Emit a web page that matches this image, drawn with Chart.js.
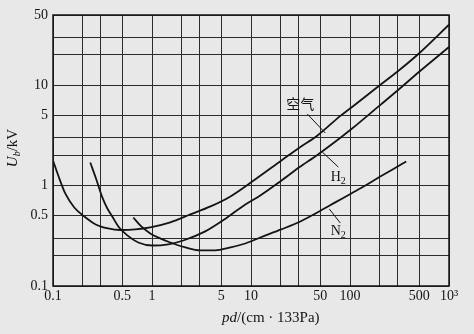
<!DOCTYPE html>
<html>
<head>
<meta charset="utf-8">
<script src="https://cdn.jsdelivr.net/npm/chart.js@4.4.1/dist/chart.umd.min.js"></script>
<style>
  html, body { margin: 0; padding: 0; background: #e8e8e8; }
  #wrap { width: 474px; height: 334px; }
</style>
</head>
<body>
<div id="wrap"><canvas id="mychart" width="474" height="334"></canvas></div>
<script>
// breakdown voltage Ub (kV) against pd (cm * 133Pa)
var airPd = [0.1, 0.113, 0.133, 0.164, 0.207, 0.27, 0.36, 0.48, 0.68, 0.96, 1.53, 2.44, 3.9, 6.2, 11, 20, 31, 47, 80, 100, 200, 300, 500, 1000]
var airUb = [1.78, 1.26, 0.835, 0.605, 0.493, 0.41, 0.374, 0.361, 0.366, 0.383, 0.43, 0.516, 0.62, 0.78, 1.15, 1.76, 2.4, 3.16, 4.95, 5.85, 10.0, 13.6, 20.8, 40]

var h2Pd = [0.238, 0.274, 0.315, 0.354, 0.397, 0.457, 0.563, 0.727, 1.0, 1.46, 2.07, 3.45, 5.37, 8.76, 12.4, 20.2, 30.7, 46.7, 80, 105, 200, 300, 500, 1000]
var h2Ub = [1.70, 1.15, 0.762, 0.591, 0.493, 0.392, 0.319, 0.271, 0.253, 0.26, 0.284, 0.35, 0.46, 0.649, 0.797, 1.12, 1.52, 2.02, 3.0, 3.7, 6.3, 8.8, 13.6, 24.0]

var n2Pd = [0.647, 0.78, 0.961, 1.21, 1.53, 2.17, 3.07, 4.36, 6.18, 8.76, 12.4, 20.2, 31.5, 46.7, 71, 103, 143, 202, 280, 370]
var n2Ub = [0.481, 0.392, 0.334, 0.298, 0.271, 0.242, 0.226, 0.226, 0.242, 0.265, 0.304, 0.366, 0.439, 0.54, 0.68, 0.835, 1.0, 1.23, 1.48, 1.74]

var xTicks = [0.1, 0.2, 0.3, 0.5, 1, 2, 3, 5, 10, 20, 30, 50, 100, 200, 300, 500, 1000]
var xTickLabels = ['0.1', '', '', '0.5', '1', '', '', '5', '10', '', '', '50', '100', '', '', '500', '10³']
var yTicks = [0.1, 0.2, 0.3, 0.5, 1, 2, 3, 5, 10, 20, 30, 50]
var yTickLabels = ['0.1', '', '', '0.5', '1', '', '', '5', '10', '', '', '50']

// curve names and their leader lines (in data units)
var curveNames = ['空气', 'H', 'N']
var curveSubs = ['', '2', '2']
var namePd = [31.5, 76, 76]
var nameUb = [6.35, 1.2, 0.35]
var leadFromPd = [37, 52.5, 61.8]
var leadFromUb = [5.17, 2.16, 0.585]
var leadToPd = [56.3, 76.2, 79.8]
var leadToUb = [3.34, 1.53, 0.424]

var bg = '#e8e8e8'
var ink = '#141414'
var serif = '"Liberation Serif", "Noto Sans CJK SC", serif'

function pts(xs, ys) {
    var out = []
    for (var i = 0; i < xs.length; i++) out.push({x: xs[i], y: ys[i]})
    return out
}

function runs(c, list, x, y, align) {
    // draw a row of text pieces, each with its own font and baseline shift
    var w = 0
    list.forEach(function(r) { c.font = r.font; w += c.measureText(r.t).width })
    var cx = align == 'center' ? x - w / 2 : x
    list.forEach(function(r) {
        c.font = r.font
        c.fillText(r.t, cx, y + (r.dy || 0))
        cx += c.measureText(r.t).width
    })
}

var decor = {
    id: 'decor',
    beforeDraw: function(chart) {
        var c = chart.ctx
        c.save()
        c.fillStyle = bg
        c.fillRect(0, 0, chart.width, chart.height)
        c.restore()
    },
    afterDraw: function(chart) {
        var c = chart.ctx, a = chart.chartArea
        var xs = chart.scales.x, ys = chart.scales.y
        c.save()
        c.strokeStyle = ink
        c.lineWidth = 1.5
        c.strokeRect(a.left, a.top, a.right - a.left, a.bottom - a.top)

        c.lineWidth = 1
        for (var i = 0; i < curveNames.length; i++) {
            c.beginPath()
            c.moveTo(xs.getPixelForValue(leadFromPd[i]), ys.getPixelForValue(leadFromUb[i]))
            c.lineTo(xs.getPixelForValue(leadToPd[i]), ys.getPixelForValue(leadToUb[i]))
            c.stroke()
        }

        c.fillStyle = ink
        c.textBaseline = 'middle'
        c.textAlign = 'left'
        for (var i = 0; i < curveNames.length; i++) {
            var px = xs.getPixelForValue(namePd[i]), py = ys.getPixelForValue(nameUb[i])
            var list = [{t: curveNames[i], font: '14px ' + serif}]
            if (curveSubs[i]) list.push({t: curveSubs[i], font: '10px ' + serif, dy: 4})
            runs(c, list, px, py, 'center')
        }

        // axis titles
        runs(c, [
            {t: 'pd', font: 'italic 15px ' + serif},
            {t: '/(cm · 133Pa)', font: '15px ' + serif}
        ], a.left + 0.55 * (a.right - a.left), a.bottom + 32, 'center')

        c.translate(13, a.top + 133)
        c.rotate(-Math.PI / 2)
        runs(c, [
            {t: 'U', font: 'italic 15px ' + serif},
            {t: 'b', font: 'italic 10px ' + serif, dy: 4},
            {t: '/kV', font: '15px ' + serif}
        ], 0, 0, 'center')
        c.restore()
    }
}

var curve = {
    borderColor: ink,
    borderWidth: 1.8,
    pointRadius: 0,
    fill: false,
    cubicInterpolationMode: 'monotone'
}

var myChart = document.getElementById('mychart').getContext('2d')

var chart = new Chart(myChart, {
    type: 'line',
    data: {
        datasets: [
            Object.assign({label: '空气', data: pts(airPd, airUb)}, curve),
            Object.assign({label: 'H2', data: pts(h2Pd, h2Ub)}, curve),
            Object.assign({label: 'N2', data: pts(n2Pd, n2Ub)}, curve)
        ]
    },
    options: {
        responsive: false,
        animation: false,
        layout: {padding: {top: 15, right: 25, left: 0, bottom: 0}},
        plugins: {legend: {display: false}, tooltip: {enabled: false}},
        scales: {
            x: {
                type: 'logarithmic',
                min: 0.1,
                max: 1000,
                afterBuildTicks: function(s) { s.ticks = xTicks.map(function(v) { return {value: v} }) },
                afterFit: function(s) { s.height = 48 },
                ticks: {
                    autoSkip: false,
                    maxRotation: 0,
                    padding: 2,
                    color: ink,
                    font: {family: serif, size: 14},
                    callback: function(v, i) { return xTickLabels[i] }
                },
                grid: {color: '#2c2c2c', lineWidth: 1, drawTicks: false},
                border: {display: false}
            },
            y: {
                type: 'logarithmic',
                min: 0.1,
                max: 50,
                afterBuildTicks: function(s) { s.ticks = yTicks.map(function(v) { return {value: v} }) },
                afterFit: function(s) { s.width = 53 },
                ticks: {
                    autoSkip: false,
                    padding: 5,
                    color: ink,
                    font: {family: serif, size: 14},
                    callback: function(v, i) { return yTickLabels[i] }
                },
                grid: {color: '#2c2c2c', lineWidth: 1, drawTicks: false},
                border: {display: false}
            }
        }
    },
    plugins: [decor]
})
</script>
</body>
</html>
